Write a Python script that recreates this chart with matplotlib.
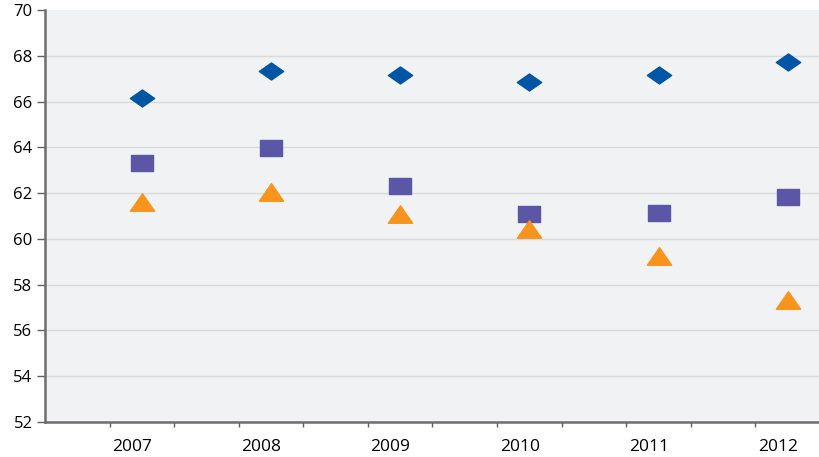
import matplotlib.pyplot as plt
import numpy as np
from matplotlib.path import Path

# Values
years = ['2007', '2008', '2009', '2010', '2011', '2012']
diamond_vals = [66.14, 67.33, 67.17, 66.85, 67.16, 67.71]
square_vals = [63.33, 63.99, 62.29, 61.08, 61.15, 61.84]
triangle_vals = [61.61, 62.03, 61.09, 60.45, 59.24, 57.32]

plt.rcParams['font.family'] = ['Open Sans', 'DejaVu Sans']

# wide markers like the Excel ones
wide_diamond = Path([(-1, 0), (0, 0.7), (1, 0), (0, -0.7), (-1, 0)],
                    [1, 2, 2, 2, 79])
wide_square = Path([(-1, -0.73), (1, -0.73), (1, 0.73), (-1, 0.73), (-1, -0.73)],
                   [1, 2, 2, 2, 79])
wide_triangle = Path([(-1, -0.72), (1, -0.72), (0, 0.72), (-1, -0.72)],
                     [1, 2, 2, 79])

fig = plt.figure(figsize=(8.2, 4.57), dpi=100)
ax = fig.add_axes([45 / 820, 35 / 457, 775 / 820, 412 / 457])
ax.set_facecolor('#f1f2f4')

x = np.arange(len(years))
ax.plot(x, diamond_vals, linestyle='none', marker=wide_diamond,
        markersize=17.5, color='#0055a5', zorder=3)
ax.plot(x, square_vals, linestyle='none', marker=wide_square,
        markersize=16.5, color='#5b57a6', zorder=3)
ax.plot(x, triangle_vals, linestyle='none', marker=wide_triangle,
        markersize=17.5, color='#f7941d', zorder=3)

ax.set_ylim(52, 70)
ax.set_yticks(np.arange(52, 71, 2))
ax.set_xlim(-0.75, 5.24)

# labels sit a bit left of the markers, tick marks between
ax.set_xticks(x - 0.075)
ax.set_xticklabels(years)
ax.set_xticks(np.arange(-0.25, 5.3, 0.5), minor=True)
ax.tick_params(axis='x', which='major', length=0, pad=12, labelsize=12.5)
ax.tick_params(axis='x', which='minor', length=3.5, width=1, color='#606060',
               direction='out')
ax.tick_params(axis='y', length=6, width=1, color='#606060', pad=3,
               labelsize=12)

ax.grid(axis='y', color='#d9dadd', linewidth=1)
ax.get_ygridlines()[-1].set_visible(False)  # no line at the top (70)
ax.set_axisbelow(True)
for s in ['top', 'right']:
    ax.spines[s].set_visible(False)
for s in ['left', 'bottom']:
    ax.spines[s].set_color('#6d6d6d')
    ax.spines[s].set_linewidth(1.8)

fig.savefig('out.png', dpi=100)
